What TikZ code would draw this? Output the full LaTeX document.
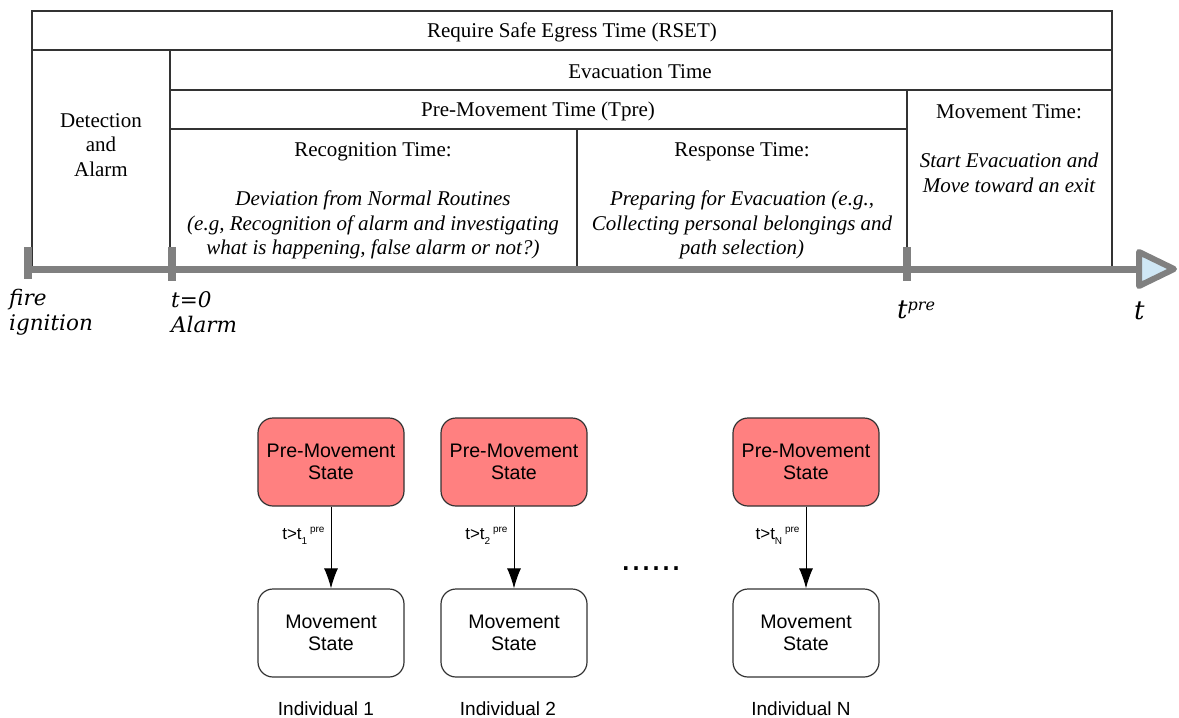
\documentclass[tikz,border=0pt]{standalone}
\usepackage{fontspec}
\setmainfont{Liberation Serif}
\setsansfont{Liberation Sans}
\newfontfamily\axfont{DejaVu Serif}
\usepackage{tikz}
\usetikzlibrary{calc, positioning, arrows.meta}
\definecolor{axgray}{RGB}{128,128,128}
\definecolor{premvred}{RGB}{255,128,128}
\definecolor{tipblue}{RGB}{207,231,245}
\tikzstyle{cell}=[draw=black!80, line width=1.2pt]
\tikzstyle{ctxt}=[inner sep=0pt, align=center, font=\fontsize{21}{24.5}\selectfont]
\tikzstyle{axlbl}=[inner sep=0pt, anchor=west, align=left, font=\axfont\itshape\fontsize{21.5}{25}\selectfont]
\tikzstyle{state}=[draw=black!80, line width=1.2pt, rounded corners=15pt, minimum width=146pt, minimum height=88pt, align=center, font=\sffamily\fontsize{19.6}{22}\selectfont]
\tikzstyle{premv}=[state, fill=premvred]
\tikzstyle{mvst}=[state, fill=white]
\tikzstyle{tlbl}=[inner sep=0pt, font=\sffamily\fontsize{17}{19}\selectfont]
\tikzstyle{indv}=[inner sep=0pt, font=\sffamily\fontsize{19}{22}\selectfont]
\tikzset{>={Latex[length=20pt, width=14pt]}}

\begin{document}
\begin{tikzpicture}[x=1pt, y=-1pt]
\useasboundingbox (0,0) rectangle (1179,718);
% the table
\draw[cell] (32,266) -- (32,11) -- (1112,11) -- (1112,266);
\draw[cell] (32,50) -- (1112,50);
\draw[cell] (170,90) -- (1112,90);
\draw[cell] (170,129) -- (907,129);
\draw[cell] (170,50) -- (170,266);
\draw[cell] (907,90) -- (907,266);
\draw[cell] (577,129) -- (577,266);
% the cell texts
\node[ctxt] (rset) at (572,32) {Require Safe Egress Time (RSET)};
\node[ctxt] (evac) at (640,72) {Evacuation Time};
\node[ctxt] (tpre) at (538,111) {Pre-Movement Time (Tpre)};
\node[ctxt] (detect) at (101,145) {Detection\\and\\Alarm};
\node[ctxt] (recog) at (373,152) {Recognition Time:};
\node[ctxt] (recogtxt) at (373,225) {\itshape Deviation from Normal Routines\\\itshape (e.g, Recognition of alarm and investigating\\\itshape what is happening, false alarm or not?)};
\node[ctxt] (resp) at (742,152) {Response Time:};
\node[ctxt] (resptxt) at (742,225) {\itshape Preparing for Evacuation (e.g.,\\\itshape Collecting personal belongings and\\\itshape path selection)};
\node[ctxt] (move) at (1009,112) {Movement Time:};
\node[ctxt] (movetxt) at (1009,173) {\itshape Start Evacuation and\\\itshape Move toward an exit};
% the time axis
\coordinate (T0) at (27,269);
\coordinate (T1) at (1138,269);
\draw[axgray, line width=7pt] (T0) -- (T1);
\draw[axgray, line width=8pt] (28,247) -- (28,279);
\draw[axgray, line width=8pt] (172,247) -- (172,281);
\draw[axgray, line width=8pt] (907,247) -- (907,281);
\draw[axgray, line width=6pt, line join=round, fill=tipblue] (1139,252) -- (1139,286) -- (1174,269) -- cycle;
% the axis labels
\node[axlbl] (fire) at (9,312) {fire\\ignition};
\node[axlbl] (alarm) at (171,312) {t=0\\Alarm};
\node[axlbl] (tp) at (897,310) {\fontsize{26}{26}\selectfont t\raisebox{8pt}{\fontsize{16}{16}\selectfont pre}};
\node[axlbl] (t) at (1134,311) {\fontsize{26}{26}\selectfont t};
% the individuals
\node[premv] (P1) at (331,462) {Pre-Movement\\State};
\node[premv] (P2) at (514,462) {Pre-Movement\\State};
\node[premv] (PN) at (806,462) {Pre-Movement\\State};
\node[mvst] (M1) at (331,633) {Movement\\State};
\node[mvst] (M2) at (514,633) {Movement\\State};
\node[mvst] (MN) at (806,633) {Movement\\State};
\draw[->, line width=1pt] (P1) -- node[tlbl, pos=0.36, left=6pt] {t>t\raisebox{-5pt}{\fontsize{10}{10}\selectfont 1}\,\raisebox{7pt}{\fontsize{10}{10}\selectfont pre}} (M1);
\draw[->, line width=1pt] (P2) -- node[tlbl, pos=0.36, left=6pt] {t>t\raisebox{-5pt}{\fontsize{10}{10}\selectfont 2}\,\raisebox{7pt}{\fontsize{10}{10}\selectfont pre}} (M2);
\draw[->, line width=1pt] (PN) -- node[tlbl, pos=0.36, left=6pt] {t>t\raisebox{-5pt}{\fontsize{10}{10}\selectfont N}\,\raisebox{7pt}{\fontsize{10}{10}\selectfont pre}} (MN);
\node[tlbl, font=\sffamily\fontsize{36}{36}\selectfont] (dots) at (651,569) {......};
\node[indv] (I1) at (326,709) {Individual 1};
\node[indv] (I2) at (508,709) {Individual 2};
\node[indv] (IN) at (801,709) {Individual N};
\end{tikzpicture}
\end{document}
